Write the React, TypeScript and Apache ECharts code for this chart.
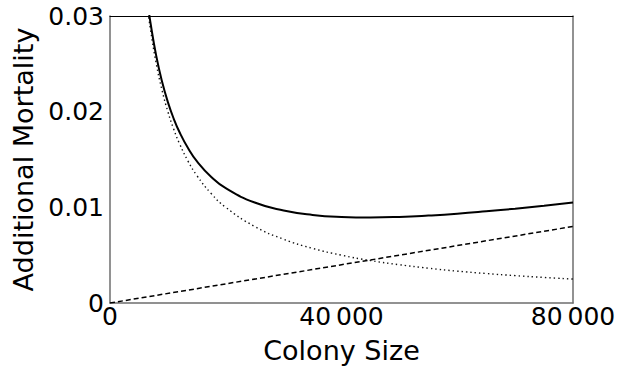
import React, { useEffect, useRef } from "react";
import * as echarts from "echarts";

// Colony sizes at which the curves are sampled
const colonySizes = [
  6500, 7000, 8000, 9000, 10000, 11000, 12000, 13500, 15000, 17500, 20000,
  25000, 30000, 35000, 40000, 45000, 50000, 55000, 60000, 65000, 70000, 75000,
  80000,
];

// Total additional mortality (solid)
const totalMortality = [
  0.03142, 0.02927, 0.0258, 0.02312, 0.021, 0.01928, 0.01787, 0.01617,
  0.01483, 0.01318, 0.012, 0.0105, 0.00967, 0.00921, 0.009, 0.00894, 0.009,
  0.00914, 0.00933, 0.00958, 0.00986, 0.01017, 0.0105,
];

// Decreasing component (dotted)
const decliningMortality = [
  0.03077, 0.02857, 0.025, 0.02222, 0.02, 0.01818, 0.01667, 0.01481, 0.01333,
  0.01143, 0.01, 0.008, 0.00667, 0.00571, 0.005, 0.00444, 0.004, 0.00364,
  0.00333, 0.00308, 0.00286, 0.00267, 0.0025,
];

// Increasing component (dashed, straight line)
const linearSizes = [0, 40000, 80000];
const linearMortality = [0, 0.004, 0.008];

const xTicks = [0, 40000, 80000];
const xTickLabels = ["0", "40\u2009000", "80\u2009000"];
const yTicks = [0, 0.01, 0.02, 0.03];
const yTickLabels = ["0", "0.01", "0.02", "0.03"];

const FONT = "DejaVu Sans";

function pair(xs: number[], ys: number[]) {
  return xs.map((x, i) => [x, ys[i]]);
}

export default function App() {
  const ref = useRef<HTMLDivElement>(null);

  useEffect(() => {
    if (!ref.current) return;
    const chart = echarts.init(ref.current, null, { renderer: "svg" });
    const gray = "#6e6e6e";
    chart.setOption({
      animation: false,
      backgroundColor: "#ffffff",
      grid: { left: 110, right: 46, top: 16, bottom: 73 },
      xAxis: [
        {
          type: "value",
          min: 0,
          max: 80000,
          interval: 40000,
          name: "Colony Size",
          nameLocation: "middle",
          nameGap: 34,
          nameTextStyle: { fontFamily: FONT, fontSize: 27, color: "#000" },
          axisLine: { show: true, lineStyle: { color: gray, width: 1.5 } },
          axisTick: { show: false },
          splitLine: { show: false },
          axisLabel: {
            margin: 1,
            fontFamily: FONT,
            fontSize: 25,
            color: "#000",
            formatter: (v: number) => {
              const i = xTicks.findIndex((t) => Math.abs(t - v) < 1e-6);
              return i >= 0 ? xTickLabels[i] : "";
            },
          },
        },
        {
          type: "value",
          position: "top",
          min: 0,
          max: 80000,
          axisLine: {
            show: true,
            onZero: false,
            lineStyle: { color: "#000", width: 1 },
          },
          axisTick: { show: false },
          axisLabel: { show: false },
          splitLine: { show: false },
        },
      ],
      yAxis: [
        {
          type: "value",
          min: 0,
          max: 0.03,
          interval: 0.01,
          name: "Additional Mortality",
          nameLocation: "middle",
          nameGap: 66,
          nameTextStyle: { fontFamily: FONT, fontSize: 27, color: "#000" },
          axisLine: { show: true, lineStyle: { color: gray, width: 1.5 } },
          axisTick: { show: false },
          splitLine: { show: false },
          axisLabel: {
            margin: 6,
            fontFamily: FONT,
            fontSize: 25,
            color: "#000",
            formatter: (v: number) => {
              const i = yTicks.findIndex((t) => Math.abs(t - v) < 1e-9);
              return i >= 0 ? yTickLabels[i] : "";
            },
          },
        },
        {
          type: "value",
          position: "right",
          min: 0,
          max: 0.03,
          axisLine: {
            show: true,
            onZero: false,
            lineStyle: { color: gray, width: 1.5 },
          },
          axisTick: { show: false },
          axisLabel: { show: false },
          splitLine: { show: false },
        },
      ],
      series: [
        {
          type: "line",
          data: pair(linearSizes, linearMortality),
          showSymbol: false,
          clip: true,
          lineStyle: { color: "#000", width: 1.5, type: [5, 3] },
        },
        {
          type: "line",
          data: pair(colonySizes, decliningMortality),
          showSymbol: false,
          smooth: true,
          clip: true,
          lineStyle: { color: "#111", width: 1.4, type: [1.4, 3] },
        },
        {
          type: "line",
          data: pair(colonySizes, totalMortality),
          showSymbol: false,
          smooth: true,
          clip: true,
          lineStyle: { color: "#000", width: 2 },
        },
      ],
    });
    return () => chart.dispose();
  }, []);

  return (
    <div
      ref={ref}
      style={{ position: "absolute", left: 0, top: 0, width: 619, height: 376 }}
    />
  );
}
